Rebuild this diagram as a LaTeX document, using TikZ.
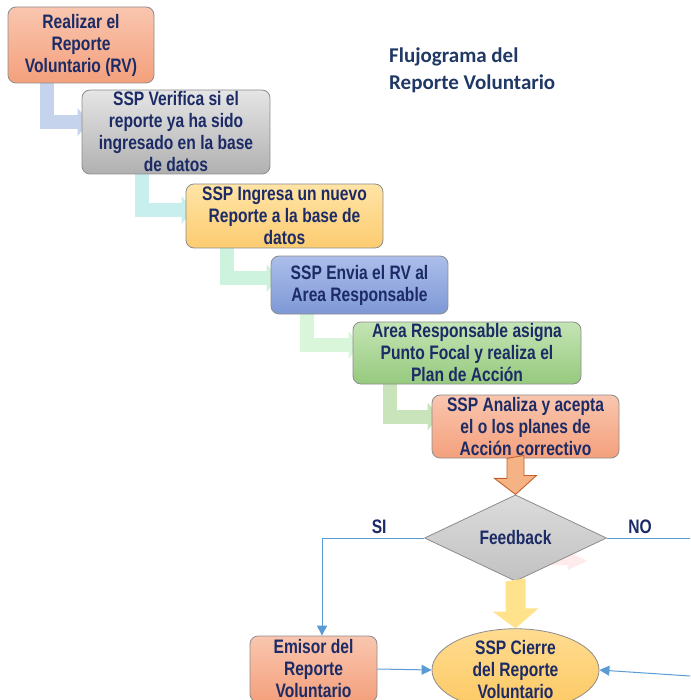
\documentclass[tikz,border=0pt]{standalone}
\usepackage{fontspec}
\newfontfamily\boxfont[FakeStretch=0.8]{Liberation Sans}
\newfontfamily\titlefont{Carlito}
\usetikzlibrary{shapes.geometric,arrows.meta,calc,backgrounds}

\definecolor{navy}{HTML}{1C2B66}
\definecolor{titleblue}{HTML}{1F3864}
\definecolor{boxline}{HTML}{8C8C8C}
\definecolor{linkblue}{HTML}{5B9BD5}
\definecolor{elbA}{HTML}{C5D4EC}
\definecolor{elbB}{HTML}{C9EEEE}
\definecolor{elbC}{HTML}{CDF3DF}
\definecolor{elbD}{HTML}{DAF6DA}
\definecolor{elbE}{HTML}{C9E3BB}
\definecolor{Salmon1}{HTML}{F9C6AF}
\definecolor{Salmon2}{HTML}{F4A07C}
\definecolor{Yell1}{HTML}{FFE4A6}
\definecolor{Yell2}{HTML}{FCCC70}
\definecolor{Blue1}{HTML}{ACBEEA}
\definecolor{Blue2}{HTML}{7E98D6}
\definecolor{Green1}{HTML}{C4E4B4}
\definecolor{Green2}{HTML}{96CA7E}
\definecolor{Oval1}{HTML}{FFDC91}
\definecolor{Oval2}{HTML}{FCC862}
\definecolor{OrFill}{HTML}{F5B284}
\definecolor{OrLine}{HTML}{C4622C}
\definecolor{YeArrow}{HTML}{FFE28C}

\tikzset{
  paso/.style={draw=boxline, line width=0.8pt, rounded corners=8pt, align=center,
    inner sep=0pt, text=navy, font=\boxfont\bfseries\fontsize{19.5}{22}\selectfont},
  salmon/.style={top color=Salmon1, bottom color=Salmon2},
  elbow/.style={line width=14pt, draw=#1, -{Triangle[length=12pt,width=27pt]}},
  link/.style={draw=linkblue, line width=1pt, -{Triangle[length=10pt,width=10pt]}},
  rotulo/.style={text=navy, font=\boxfont\bfseries\fontsize{19.5}{22}\selectfont}
}

\begin{document}
\begin{tikzpicture}[x=1pt, y=-1pt]
  \useasboundingbox (0,0) rectangle (690,700);

  %% title
  \node[anchor=north west, inner sep=0pt, align=left, text=titleblue,
    font=\titlefont\bfseries\fontsize{21}{27}\selectfont] (titulo) at (389,48)
    {Flujograma del\\Reporte Voluntario};

  %% steps
  \node[paso, salmon, minimum width=146pt, minimum height=76pt] (r1) at (81,45)
    {Realizar el\\Reporte\\Voluntario (RV)};
  \node[paso, top color=gray!20, bottom color=gray!62, minimum width=188pt, minimum height=84pt] (r2) at (176,132)
    {SSP Verifica si el\\reporte ya ha sido\\ingresado en la base\\de datos};
  \node[paso, top color=Yell1, bottom color=Yell2, minimum width=197pt, minimum height=64pt] (r3) at (284.5,216)
    {SSP Ingresa un nuevo\\Reporte a la base de\\datos};
  \node[paso, top color=Blue1, bottom color=Blue2, minimum width=177pt, minimum height=58pt] (r4) at (359.5,285)
    {SSP Envia el RV al\\Area Responsable};
  \node[paso, top color=Green1, bottom color=Green2, minimum width=228pt, minimum height=62pt] (r5) at (467,353)
    {Area Responsable asigna\\Punto Focal y realiza el\\Plan de Acción};
  \node[paso, salmon, minimum width=187pt, minimum height=63pt] (r6) at (525.5,426.5)
    {SSP Analiza y acepta\\el o los planes de\\Acción correctivo};

  %% decision and ends
  \node[paso, diamond, rounded corners=0pt, top color=gray!28, bottom color=gray!48,
    minimum width=182pt, minimum height=83pt] (fb) at (515.5,538) {Feedback};
  \node[paso, salmon, minimum width=127pt, minimum height=66pt] (em) at (313.5,669)
    {Emisor del\\Reporte\\Voluntario};
  \node[paso, ellipse, rounded corners=0pt, top color=Oval1, bottom color=Oval2,
    minimum width=167pt, minimum height=82pt] (ce) at (515.5,670)
    {SSP Cierre\\del Reporte\\Voluntario};

  \begin{scope}[on background layer]
    \draw[elbow=elbA] ([xshift=39pt]r1.south west) |- ([xshift=8pt,yshift=10pt]r2.west); %% r1->r2
    \draw[elbow=elbB] ([xshift=60pt]r2.south west) |- ([xshift=8pt,yshift=6pt]r3.west); %% r2->r3
    \draw[elbow=elbC] ([xshift=41pt]r3.south west) |- ([xshift=8pt,yshift=7pt]r4.west); %% r3->r4
    \draw[elbow=elbD] ([xshift=36pt]r4.south west) |- ([xshift=8pt,yshift=8pt]r5.west); %% r4->r5
    \draw[elbow=elbE] ([xshift=37pt]r5.south west) |- ([xshift=8pt,yshift=10pt]r6.west); %% r5->r6
    % faint arrow behind the decision
    \fill[red!8] ($(fb.center)+(30,19)$) -- ++(22,0) -- ++(0,-5) -- ++(20,9) -- ++(-20,9) -- ++(0,-5) -- ++(-22,0) -- cycle;
  \end{scope}

  %% block arrows
  \draw[fill=OrFill, draw=OrLine, line width=0.9pt]
    ($(r6.south -| fb.north)+(-8.5,0)$) -- ++(0,20) -- ++(-12.5,0) -- (fb.north)
    -- ++(21,-19) -- ++(-12.5,0) -- ++(0,-20) -- cycle; %% r6->fb
  \fill[YeArrow]
    ($(fb.south)+(-10,0)$) -- ++(0,30) -- ++(-13,0) -- (ce.north)
    -- ++(23,-20) -- ++(-13,0) -- ++(0,-30) -- cycle; %% fb->ce

  %% answers
  \coordinate (noend) at (690,538);
  \coordinate (rin) at (690,676);
  \draw[link] (fb.west) -| ([xshift=8.5pt]em.north) node[rotulo, pos=0.22, above]{SI}; %% fb->em
  \draw[draw=linkblue, line width=1pt] (fb.east) -- (noend) node[rotulo, pos=0.4, above]{NO}; %% fb->no
  \draw[link] (em.east) -- (ce.west); %% em->ce
  \draw[link] (rin) -- (ce.east);
\end{tikzpicture}
\end{document}
